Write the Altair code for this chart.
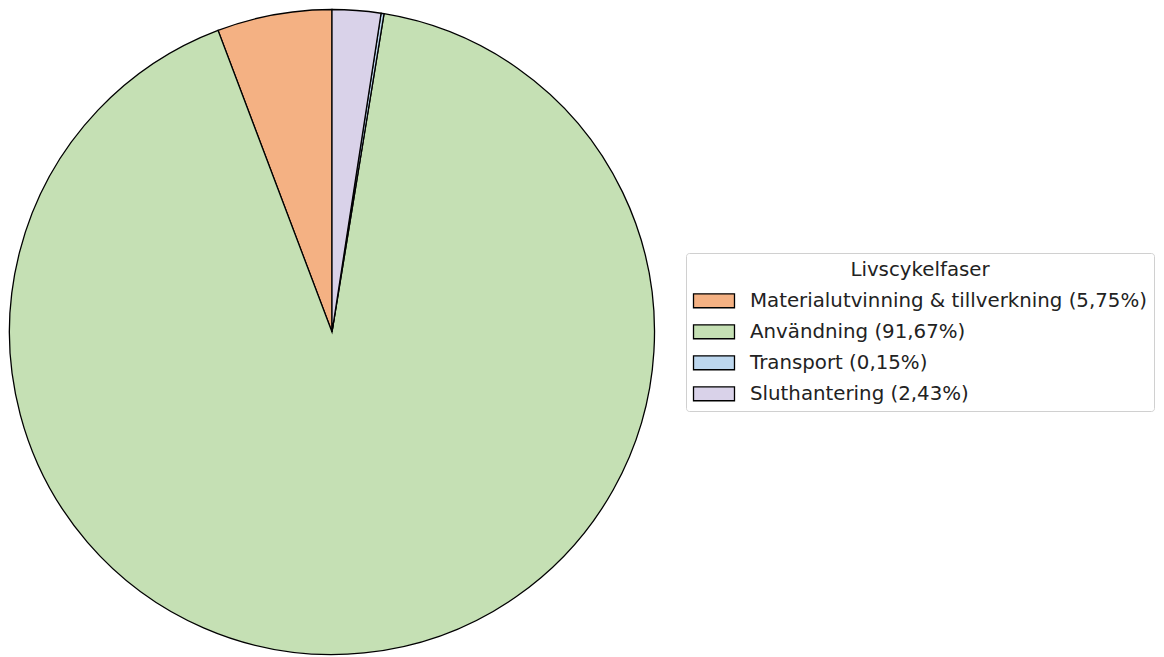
import altair as alt
import pandas as pd

phases = ["Materialutvinning & tillverkning", "Användning", "Transport", "Sluthantering"]
shares = [5.75, 91.67, 0.15, 2.43]
colors = ["#F4B183", "#C5E0B4", "#BDD7EE", "#D9D2E9"]
# clockwise drawing order starting at 12 o'clock
draw_order = [4, 3, 2, 1]

labels = [f"{p} ({str(format(s, '.2f')).replace('.', ',')}%)" for p, s in zip(phases, shares)]
df = pd.DataFrame({"label": labels, "share": shares, "ord": draw_order})

FONT = "DejaVu Sans"

pie = alt.Chart(df).mark_arc(
    outerRadius=322.5, stroke="black", strokeWidth=1.3
).encode(
    theta=alt.Theta("share:Q", stack=True),
    order=alt.Order("ord:Q"),
    x=alt.value(324),
    y=alt.value(324),
    color=alt.Color(
        "label:N",
        scale=alt.Scale(domain=labels, range=colors),
        legend=alt.Legend(
            title="Livscykelfaser",
            orient="none",
            legendX=678,
            legendY=245,
            titleFont=FONT,
            titleFontSize=19.8,
            titleFontWeight="normal",
            titleColor="#222",
            titleAnchor="middle",
            titleAlign="center",
            titlePadding=10,
            labelFont=FONT,
            labelFontSize=19.8,
            labelColor="#222",
            labelOffset=25,
            labelLimit=600,
            symbolType="M-2,-0.68H2V0.68H-2Z",
            symbolSize=420,
            symbolOffset=10,
            symbolStrokeColor="black",
            symbolStrokeWidth=1.3,
            symbolOpacity=1,
            rowPadding=10,
            padding=7,
            strokeColor="#d0d0d0",
            fillColor="white",
            cornerRadius=3,
        ),
    ),
).properties(width=1148, height=649)

chart = pie.properties(autosize=alt.AutoSizeParams(type="none"), padding=0).configure_view(stroke=None)
chart.save("out.html", embed_options={"renderer": "svg", "actions": False})
